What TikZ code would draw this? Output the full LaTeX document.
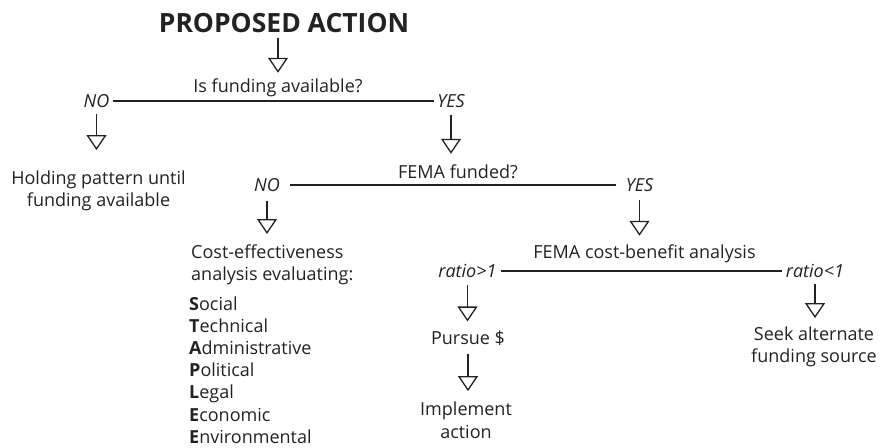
\documentclass[tikz,border=0pt]{standalone}
\usepackage{fontspec}
\setmainfont{Open Sans}
\usetikzlibrary{arrows.meta}
\definecolor{ink}{HTML}{222222}
\begin{document}
\begin{tikzpicture}[x=1pt,y=-1pt,
  every node/.style={inner sep=0pt, text=ink, font=\fontsize{18}{22.5}\selectfont},
  lbl/.style={font=\fontsize{18}{22.5}\selectfont\itshape, text height=12.8pt, text depth=0pt},
  arr/.style={draw=ink, line width=1.3pt, -{Triangle[open,width=20pt,length=15pt]}},
  hline/.style={draw=ink, line width=1.3pt}]
\useasboundingbox (0,0) rectangle (880,447);

\node[font=\fontsize{26.5}{30}\selectfont\bfseries] (title) at (284,23.5) {PROPOSED ACTION};
\node (isf) at (278,88) {Is funding available?};
\node[lbl] (no1) at (96.5,101) {NO};
\node[lbl] (yes1) at (451,101) {YES};
\node[align=center] (hold) at (98.5,191) {Holding pattern until\\funding available};
\node (femaf) at (458,172) {FEMA funded?};
\node[lbl] (no2) at (267,185) {NO};
\node[lbl] (yes2) at (639.5,185) {YES};
\node[align=left, anchor=west] (cost) at (191,265) {Cost-effectiveness\\analysis evaluating:};
\node[align=left, anchor=west, font=\fontsize{18}{22.2}\selectfont] (list) at (189,370)
  {\textbf{S}ocial\\\textbf{T}echnical\\\textbf{A}dministrative\\\textbf{P}olitical\\\textbf{L}egal\\\textbf{E}conomic\\\textbf{E}nvironmental};
\node (cba) at (644.5,254) {FEMA cost-benefit analysis};
\node[lbl] (r1) at (467.5,271) {ratio>1};
\node[lbl] (r2) at (815,271) {ratio<1};
\node (pursue) at (468,338) {Pursue \$};
\node[align=center] (impl) at (466,420) {Implement\\action};
\node[align=center] (seek) at (814,347) {Seek alternate\\funding source};

\draw[arr, shorten <=5pt, shorten >=6pt] (isf.north |- title.south) -- (isf.north);
\draw[hline, shorten <=3pt, shorten >=3pt] (no1.east) -- (yes1.west);
\draw[arr, shorten <=6pt, shorten >=20.5pt] (no1.south) -- (no1.south |- hold.north);
\draw[arr, shorten <=7pt, shorten >=11pt] (yes1.south) -- (yes1.south |- femaf.north);
\draw[hline, shorten <=10pt, shorten >=10pt] (no2.east) -- (yes2.west);
\draw[arr, shorten <=9pt, shorten >=10.5pt] (no2.south) -- (no2.south |- cost.north);
\draw[arr, shorten <=8pt, shorten >=9pt] (yes2.south) -- (yes2.south |- cba.north);
\draw[hline, shorten <=4pt, shorten >=4pt] (r1.east) -- (r2.west);
\draw[arr, shorten <=7pt, shorten >=9pt] (r1.south) -- (r1.south |- pursue.north);
\draw[arr, shorten <=8.5pt, shorten >=10.5pt] (pursue.south) -- (pursue.south |- impl.north);
\draw[arr, shorten <=6pt, shorten >=8.5pt] (r2.south) -- (r2.south |- seek.north);
\end{tikzpicture}
\end{document}
